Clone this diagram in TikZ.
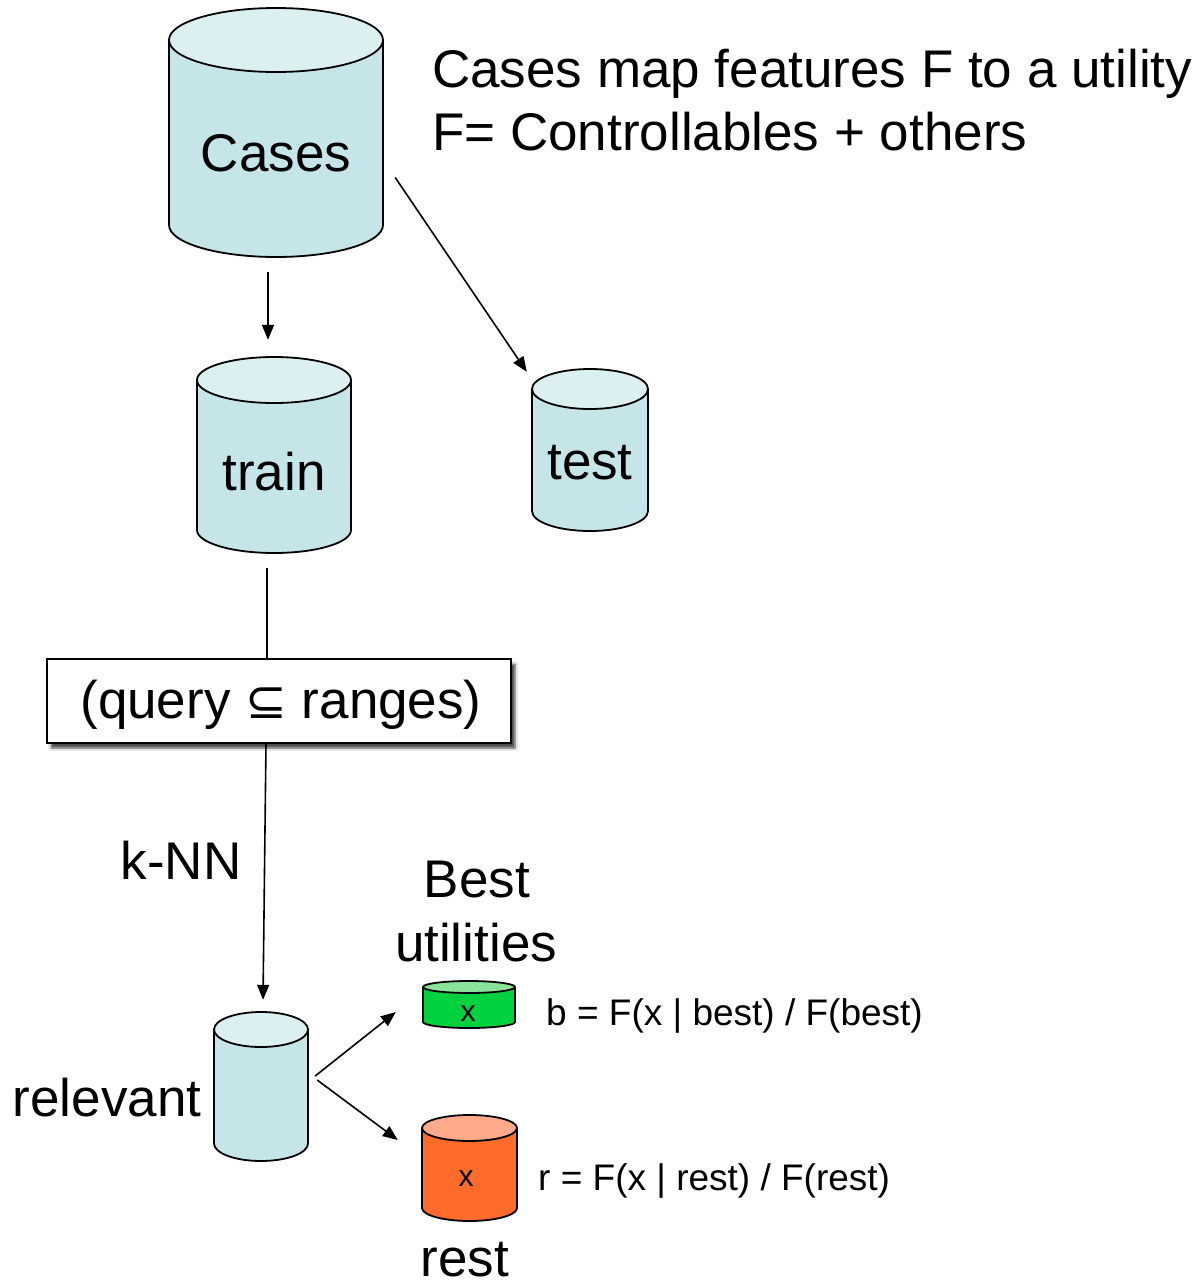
\documentclass[tikz,border=0pt]{standalone}
\usepackage{fontspec}
\setmainfont{Liberation Sans}
\newfontfamily\dvfont{DejaVu Sans}
\usetikzlibrary{arrows.meta,shadows.blur}
\definecolor{cylbody}{HTML}{C5E5E8}
\definecolor{cyltop}{HTML}{DCEFF1}
\definecolor{grbody}{HTML}{00D13F}
\definecolor{grtop}{HTML}{8AE39B}
\definecolor{orbody}{HTML}{FF6B2B}
\definecolor{ortop}{HTML}{FFAA8A}
\tikzset{
  cylline/.style={line width=1.8pt, draw=black},
  conn/.style={line width=1.6pt, -{Triangle[length=15pt,width=12pt]}},
  plainconn/.style={line width=1.6pt},
  big/.style={font=\fontsize{53}{60}\selectfont, inner sep=0pt},
  mid/.style={font=\fontsize{37}{44}\selectfont, inner sep=0pt},
  small/.style={font=\fontsize{30}{36}\selectfont, inner sep=0pt},
}
% name, cx, ytop, ybot, rx, ry, body colour, top colour
\newcommand\dbcyl[8]{%
  \fill[#7] ({#2-#5},{#3+#6}) -- ({#2-#5},{#4-#6})
     arc[start angle=180,end angle=360,x radius=#5pt,y radius=#6pt]
     -- ({#2+#5},{#3+#6}) -- cycle;
  \draw[cylline] ({#2-#5},{#3+#6}) -- ({#2-#5},{#4-#6})
     arc[start angle=180,end angle=360,x radius=#5pt,y radius=#6pt]
     -- ({#2+#5},{#3+#6});
  \draw[cylline, fill=#8] (#2,{#3+#6}) ellipse[x radius=#5pt, y radius=#6pt];
  \node[inner sep=0pt, minimum width={(2*#5)*1pt}, minimum height={(#4-#3)*1pt}] (#1) at (#2,{(#3+#4)/2}) {};
}
\begin{document}
\begin{tikzpicture}[x=1pt,y=-1pt]
\useasboundingbox (0,0) rectangle (1201,1286);
\fill[white] (0,0) rectangle (1201,1286);

% cylinders
\dbcyl{cases}{276}{8}{257}{107}{32}{cylbody}{cyltop}
\dbcyl{train}{274}{357}{553}{77}{23}{cylbody}{cyltop}
\dbcyl{test}{590}{369}{531}{58}{20}{cylbody}{cyltop}
\dbcyl{relevant}{261}{1012}{1161}{47}{17.5}{cylbody}{cyltop}
\dbcyl{best}{469}{981}{1028}{46}{6}{grbody}{grtop}
\dbcyl{rest}{469.5}{1115}{1221}{47.5}{13}{orbody}{ortop}

% cylinder labels
\node[big] (casesT) at (276,153) {Cases};
\node[big] (trainT) at (274,472) {train};
\node[big] (testT) at (590,463) {test};
\node[small] (bestX) at (468,1014) {x};
\node[small] (restX) at (466,1179) {x};

% box
\node[draw=black, line width=1.8pt, fill=white, minimum width=464pt, minimum height=84pt,
      blur shadow={shadow xshift=4pt, shadow yshift=-5pt, shadow blur steps=6, shadow opacity=70}]
      (query) at (279,701) {};
\node[big] (queryT) at (281,705) {(query {\dvfont\fontsize{50}{60}\selectfont ⊆} ranges)};

% texts
\node[big, anchor=base west] (head1) at (432,87) {Cases map features F to a utility};
\node[big, anchor=base west] (head2) at (432,150) {F= Controllables + others};
\node[big] (knn) at (181,860) {k-NN};
\node[big] (bestL1) at (477,880) {Best};
\node[big] (bestL2) at (476,943) {utilities};
\node[big] (relL) at (107,1098) {relevant};
\node[big] (restL) at (465,1260) {rest};
\node[mid, anchor=west] (bF) at (546,1016) {b = F(x | best) / F(best)};
\node[mid, anchor=west] (rF) at (538,1181) {r = F(x | rest) / F(rest)};

% connectors
\draw[conn] ([xshift=-8pt,yshift=-15pt]cases.south) -- ([xshift=-6pt,yshift=17pt]train.north);
\draw[conn] ([xshift=12pt,yshift=-45pt]cases.east) -- ([xshift=-5pt,yshift=-3pt]test.north west);
\draw[plainconn] ([xshift=-7pt,yshift=-15pt]train.south) -- ([xshift=-12pt]query.north);
\draw[conn] ([xshift=-13pt]query.south) -- ([xshift=2pt,yshift=12pt]relevant.north);
\draw[conn] ([xshift=7pt,yshift=-(1076-1086.5)*1pt]relevant.east) -- ([xshift=-27pt,yshift=-(1012-1004.5)*1pt]best.west);
\draw[conn] ([xshift=9pt,yshift=-(1080-1086.5)*1pt]relevant.east) -- ([xshift=-24pt,yshift=-(1140-1168)*1pt]rest.west);
\end{tikzpicture}
\end{document}
